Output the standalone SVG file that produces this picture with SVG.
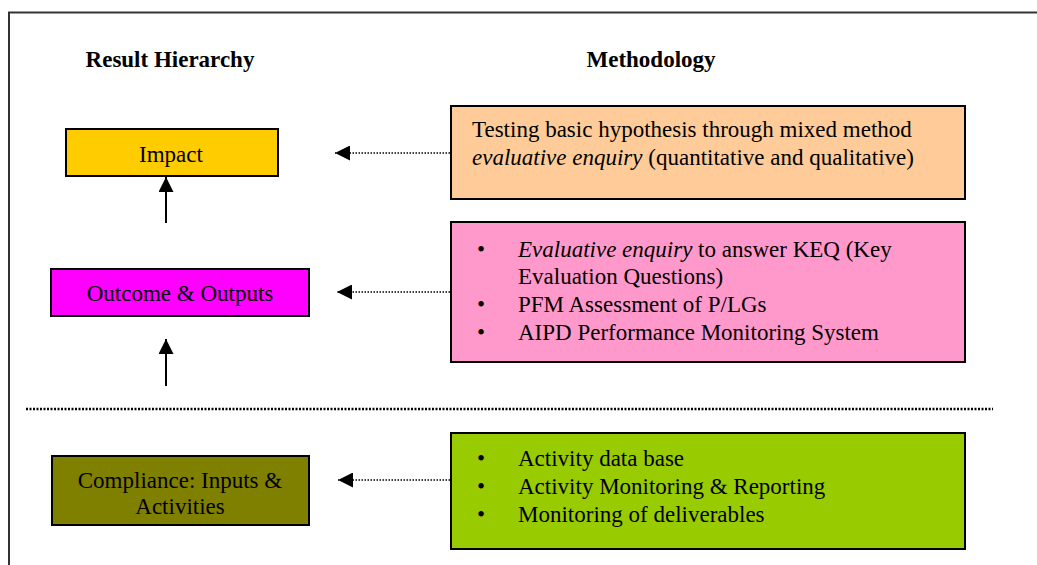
<svg xmlns="http://www.w3.org/2000/svg" width="1037" height="565" viewBox="0 0 1037 565">
  <style>
    text { font-family: "Liberation Serif", "Times New Roman", serif; font-size: 23px; fill: #000; }
    .hdr { font-weight: bold; font-size: 23px; }
    .box { stroke: #000; stroke-width: 2; }
    .solid { stroke: #000; stroke-width: 2; fill: none; }
    .dots { stroke: #000; stroke-width: 1.5; stroke-dasharray: 1.5 1.5; fill: none; }
    .sep { stroke: #000; stroke-width: 2.5; stroke-dasharray: 2 1.5; fill: none; }
    .it { font-style: italic; }
  </style>
  <defs>
    <marker id="head" viewBox="0 0 10 10" refX="10" refY="5" markerWidth="15" markerHeight="15" markerUnits="userSpaceOnUse" orient="auto">
      <path d="M0,0 L10,5 L0,10 Z" fill="#000"/>
    </marker>
  </defs>

  <!-- page frame -->
  <path d="M9,565 V12.5 H1037" fill="none" stroke="#333" stroke-width="2"/>

  <!-- column headings -->
  <text class="hdr" x="170" y="67" text-anchor="middle">Result Hierarchy</text>
  <text class="hdr" x="651" y="67" text-anchor="middle">Methodology</text>

  <!-- result hierarchy -->
  <g id="impact">
    <rect class="box" x="66" y="129" width="212" height="47" fill="#FFCC00"/>
    <text x="171" y="162" text-anchor="middle">Impact</text>
  </g>
  <g id="outcome">
    <rect class="box" x="51" y="269" width="258" height="47" fill="#FF00FF"/>
    <text x="180" y="301" text-anchor="middle">Outcome &amp; Outputs</text>
  </g>
  <g id="compliance">
    <rect class="box" x="52" y="456" width="257" height="69" fill="#808000"/>
    <text x="180" y="488" text-anchor="middle">Compliance: Inputs &amp;</text>
    <text x="180" y="514" text-anchor="middle">Activities</text>
  </g>

  <!-- methodology -->
  <g id="testing">
    <rect class="box" x="451" y="106" width="514" height="93" fill="#FFCC99"/>
    <text x="472" y="137">Testing basic hypothesis through mixed method</text>
    <text x="472" y="165"><tspan class="it">evaluative enquiry</tspan> (quantitative and qualitative)</text>
  </g>
  <g id="enquiry">
    <rect class="box" x="451" y="222" width="514" height="140" fill="#FF99CC"/>
    <text x="477" y="257">•</text>
    <text x="518" y="257"><tspan class="it">Evaluative enquiry</tspan> to answer KEQ (Key</text>
    <text x="518" y="284">Evaluation Questions)</text>
    <text x="477" y="312">•</text>
    <text x="518" y="312">PFM Assessment of P/LGs</text>
    <text x="477" y="340">•</text>
    <text x="518" y="340">AIPD Performance Monitoring System</text>
  </g>
  <g id="activity">
    <rect class="box" x="451" y="433" width="514" height="116" fill="#99CC00"/>
    <text x="477" y="466">•</text>
    <text x="518" y="466">Activity data base</text>
    <text x="477" y="494">•</text>
    <text x="518" y="494">Activity Monitoring &amp; Reporting</text>
    <text x="477" y="522">•</text>
    <text x="518" y="522">Monitoring of deliverables</text>
  </g>

  <!-- connectors -->
  <g id="connectors">
    <line class="solid" x1="166" y1="223" x2="166" y2="177" marker-end="url(#head)"/>
    <line class="solid" x1="166" y1="386" x2="166" y2="339" marker-end="url(#head)"/>
    <line class="dots" x1="450" y1="153" x2="335" y2="153" marker-end="url(#head)"/>
    <line class="dots" x1="450" y1="292" x2="337" y2="292" marker-end="url(#head)"/>
    <line class="dots" x1="450" y1="480" x2="338" y2="480" marker-end="url(#head)"/>
    <line class="sep" x1="26" y1="409" x2="993" y2="409"/>
  </g>
</svg>
